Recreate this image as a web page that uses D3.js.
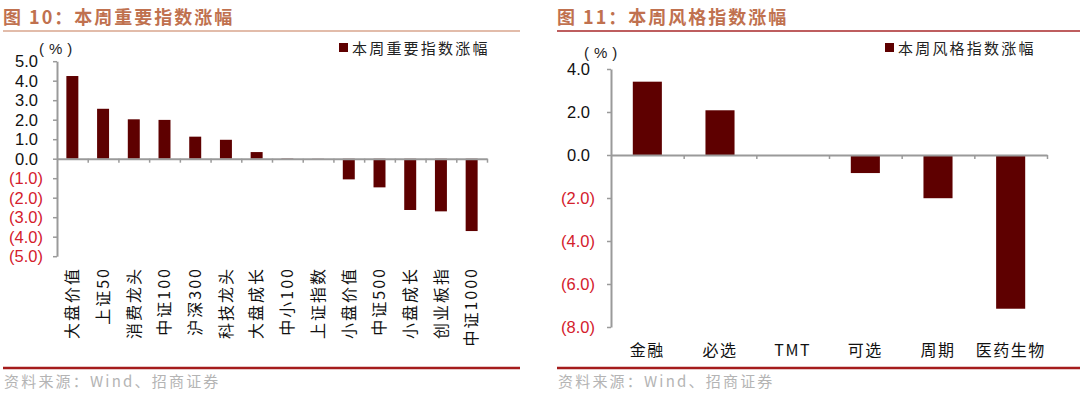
<!DOCTYPE html>
<html>
<head>
<meta charset="utf-8">
<script src="https://cdn.jsdelivr.net/npm/d3@7"></script>
<style>
  html, body { margin: 0; padding: 0; background: #fff; }
  svg { display: block; }
  .num { font-family: "Liberation Sans", Arial, sans-serif; }
  .cjk { font-family: "Noto Sans CJK SC", sans-serif; }
</style>
</head>
<body>
<svg id="chart" width="1080" height="394"></svg>
<script>
// 图10 数据
const indexNames = ['大盘价值', '上证50', '消费龙头', '中证100', '沪深300', '科技龙头', '大盘成长',
  '中小100', '上证指数', '小盘价值', '中证500', '小盘成长', '创业板指', '中证1000'];
const indexChange = [4.24, 2.56, 2.02, 1.99, 1.13, 0.97, 0.34, 0.02, -0.01, -1.06, -1.47, -2.63, -2.70, -3.71];
const indexTicks = [5, 4, 3, 2, 1, 0, -1, -2, -3, -4, -5];

// 图11 数据
const styleNames = ['金融', '必选', 'TMT', '可选', '周期', '医药生物'];
const styleChange = [3.41, 2.08, 0.0, -0.84, -2.01, -7.15];
const styleTicks = [4, 2, 0, -2, -4, -6, -8];

const BAR = '#5e0000';
const AXIS = '#9a9a9a';
const NEG = '#d4202c';

const svg = d3.select('#chart');

// 格式: 负数用括号红色
const fmt = v => v < 0 ? `(${Math.abs(v).toFixed(1)})` : v.toFixed(1);

function drawPanel(o) {
  const g = svg.append('g');

  // 标题
  g.append('text').attr('class', 'cjk')
    .attr('x', o.left).attr('y', 24)
    .attr('font-size', 18).attr('font-weight', 'bold')
    .attr('letter-spacing', 2)
    .attr('fill', '#c0714f')
    .text(o.title);
  g.append('line')
    .attr('x1', o.left).attr('x2', o.right).attr('y1', 31).attr('y2', 31)
    .attr('stroke', o.titleLine).attr('stroke-width', 1.6);

  // 页脚
  g.append('line')
    .attr('x1', o.left).attr('x2', o.right).attr('y1', 368).attr('y2', 368)
    .attr('stroke', '#a51c1c').attr('stroke-width', 2.4);
  g.append('text').attr('class', 'cjk')
    .attr('x', o.left + 1).attr('y', 387)
    .attr('font-size', 15).attr('letter-spacing', 2.2)
    .attr('fill', '#b4b4b4')
    .text('资料来源：Wind、招商证券');

  const y = d3.scaleLinear().domain(o.yDomain).range(o.yRange);
  const x = d3.scaleBand().domain(o.names).range([o.x0, o.x1])
    .paddingInner(1 - o.barRatio).paddingOuter((1 - o.barRatio) / 2);
  const xi = d3.scaleLinear().domain([0, o.names.length]).range([o.x0, o.x1]);

  // 柱子
  g.append('g').selectAll('rect')
    .data(o.values)
    .enter().append('rect')
    .attr('x', (d, i) => x(o.names[i]))
    .attr('width', x.bandwidth())
    .attr('y', d => y(Math.max(0, d)))
    .attr('height', d => Math.abs(y(d) - y(0)))
    .attr('fill', BAR);

  // y轴
  const yAxis = g.append('g')
    .attr('transform', `translate(${o.x0},0)`)
    .call(d3.axisLeft(y).tickValues(o.ticks).tickSize(4).tickSizeOuter(0).tickFormat(''));
  yAxis.select('.domain').attr('stroke', AXIS).attr('stroke-width', 2);
  yAxis.selectAll('.tick line').attr('stroke', AXIS).attr('stroke-width', 1.5);

  g.append('g').selectAll('text')
    .data(o.ticks)
    .enter().append('text')
    .attr('class', 'num')
    .attr('x', d => o.x0 - o.labelGap - (d < 0 ? 0 : 5))
    .attr('y', d => y(d))
    .attr('dy', '0.36em')
    .attr('text-anchor', 'end')
    .attr('font-size', 16.5)
    .attr('fill', d => d < 0 ? NEG : '#111')
    .text(fmt);

  // x轴 (零线)
  const xAxis = g.append('g')
    .attr('transform', `translate(0,${y(0)})`)
    .call(d3.axisBottom(xi).tickValues(d3.range(1, o.names.length + 1)).tickSize(4).tickSizeOuter(0).tickFormat(''));
  xAxis.select('.domain').attr('stroke', AXIS).attr('stroke-width', 2);
  xAxis.selectAll('.tick line').attr('stroke', AXIS).attr('stroke-width', 1.5);

  // 单位
  g.append('text').attr('class', 'num')
    .attr('x', o.unitX).attr('y', o.unitY)
    .attr('font-size', 15).attr('letter-spacing', 5).attr('fill', '#222')
    .text('(%)');

  // 图例
  g.append('rect')
    .attr('x', o.legendX).attr('y', 43).attr('width', 9).attr('height', 9)
    .attr('fill', BAR);
  g.append('text').attr('class', 'cjk')
    .attr('x', o.legendX + 13).attr('y', 53.5)
    .attr('font-size', 15).attr('letter-spacing', 2.2).attr('fill', '#222')
    .text(o.legend);

  // 类别标签
  const lab = g.append('g').selectAll('text')
    .data(o.names)
    .enter().append('text')
    .attr('class', 'cjk')
    .attr('fill', '#111');
  if (o.rotate) {
    lab.attr('transform', d => `translate(${x(d) + x.bandwidth() / 2},${o.labelY}) rotate(-90)`)
      .attr('text-anchor', 'end')
      .attr('dy', '0.36em')
      .attr('font-size', 16)
      .attr('letter-spacing', 2)
      .text(d => d);
  } else {
    lab.attr('x', d => x(d) + x.bandwidth() / 2)
      .attr('y', o.labelY)
      .attr('text-anchor', 'middle')
      .attr('font-size', 16)
      .attr('letter-spacing', 1.5)
      .text(d => d);
  }
}

drawPanel({
  title: '图 10：本周重要指数涨幅',
  left: 3, right: 520, titleLine: '#d9a68e',
  names: indexNames, values: indexChange, ticks: indexTicks,
  yDomain: [-5, 5], yRange: [256.2, 61.2],
  x0: 57, x1: 487, barRatio: 0.39, labelGap: 14,
  unitX: 39, unitY: 54,
  legendX: 339, legend: '本周重要指数涨幅',
  rotate: true, labelY: 267
});

drawPanel({
  title: '图 11：本周风格指数涨幅',
  left: 557, right: 1080, titleLine: '#a8282a',
  names: styleNames, values: styleChange, ticks: styleTicks,
  yDomain: [-8, 4], yRange: [327, 69],
  x0: 611, x1: 1047, barRatio: 0.4, labelGap: 16,
  unitX: 584, unitY: 58,
  legendX: 885, legend: '本周风格指数涨幅',
  rotate: false, labelY: 356
});
</script>
</body>
</html>
